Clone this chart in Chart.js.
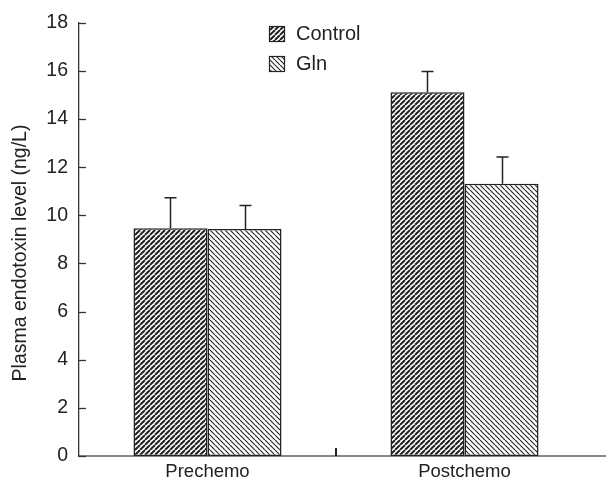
<!DOCTYPE html>
<html>
<head>
<meta charset="utf-8">
<script src="https://cdn.jsdelivr.net/npm/chart.js@4/dist/chart.umd.min.js"></script>
<style>
  html, body { margin: 0; padding: 0; background: #fff; }
  #wrap { width: 606px; height: 483px; }
</style>
</head>
<body>
<div id="wrap"><canvas id="c" width="606" height="483"></canvas></div>
<script>
const categories = ['Prechemo', 'Postchemo'];
const seriesNames = ['Control', 'Gln'];
const controlValues = [9.46, 15.11];
const controlErrors = [1.27, 0.86];
const glnValues = [9.43, 11.31];
const glnErrors = [0.98, 1.11];
const yMin = 0, yMax = 18, yStep = 2;
const yTitle = 'Plasma endotoxin level (ng/L)';

const FONT = "'Liberation Sans', Arial, sans-serif";
const TEXT = '#222';

function makeHatch(dir, size, lw, color) {
  const c = document.createElement('canvas');
  c.width = size; c.height = size;
  const g = c.getContext('2d');
  g.fillStyle = '#fff';
  g.fillRect(0, 0, size, size);
  g.strokeStyle = color;
  g.lineWidth = lw;
  g.beginPath();
  for (let k = -1; k <= 1; k++) {
    if (dir === '/') {
      g.moveTo(k * size, size);
      g.lineTo(k * size + size, 0);
    } else {
      g.moveTo(k * size, 0);
      g.lineTo(k * size + size, size);
    }
  }
  g.stroke();
  return document.getElementById('c').getContext('2d').createPattern(c, 'repeat');
}

const controlFill = makeHatch('/', 5, 2.0, '#222');
const glnFill = makeHatch('\\', 5, 1.2, '#2a2a2a');

const errorsBySet = [controlErrors, glnErrors];

const errorBars = {
  id: 'errorBars',
  afterDatasetsDraw(chart) {
    const ctx = chart.ctx;
    const ys = chart.scales.y;
    ctx.save();
    ctx.strokeStyle = '#222';
    ctx.lineWidth = 1.5;
    chart.data.datasets.forEach((ds, i) => {
      const meta = chart.getDatasetMeta(i);
      meta.data.forEach((el, j) => {
        const top = ys.getPixelForValue(ds.data[j] + errorsBySet[i][j]);
        const x = Math.round(el.x) + 0.5;
        ctx.beginPath();
        ctx.moveTo(x, el.y);
        ctx.lineTo(x, top);
        ctx.moveTo(x - 6, top);
        ctx.lineTo(x + 6, top);
        ctx.stroke();
      });
    });
    ctx.restore();
  }
};

const axisDecor = {
  id: 'axisDecor',
  afterDraw(chart) {
    const ctx = chart.ctx;
    const ys = chart.scales.y, xs = chart.scales.x;
    const area = chart.chartArea;
    ctx.save();
    // x axis extension to the right edge
    ctx.strokeStyle = '#888';
    ctx.lineWidth = 2;
    ctx.beginPath();
    ctx.moveTo(area.right - 1, area.bottom);
    ctx.lineTo(chart.width, area.bottom);
    ctx.stroke();
    // inside y ticks
    ctx.strokeStyle = '#333';
    ctx.lineWidth = 1.3;
    ys.ticks.forEach(t => {
      const y = Math.round(ys.getPixelForValue(t.value)) + 0.5;
      ctx.beginPath();
      ctx.moveTo(area.left, y);
      ctx.lineTo(area.left + 7, y);
      ctx.stroke();
    });
    // middle x tick between categories
    const mid = (xs.getPixelForValue(0) + xs.getPixelForValue(1)) / 2;
    ctx.strokeStyle = '#222';
    ctx.lineWidth = 2;
    ctx.beginPath();
    ctx.moveTo(mid, area.bottom);
    ctx.lineTo(mid, area.bottom - 8);
    ctx.stroke();
    // y axis title
    ctx.save();
    ctx.translate(21, 253);
    ctx.rotate(-Math.PI / 2);
    ctx.font = '19.5px ' + FONT;
    ctx.fillStyle = TEXT;
    ctx.textAlign = 'center';
    ctx.textBaseline = 'middle';
    ctx.fillText(yTitle, 0, 0);
    ctx.restore();
    // legend
    const fills = [controlFill, glnFill];
    ctx.font = '20px ' + FONT;
    ctx.textBaseline = 'middle';
    ctx.textAlign = 'left';
    seriesNames.forEach((name, i) => {
      const y0 = 26 + i * 30;
      ctx.fillStyle = fills[i];
      ctx.fillRect(269, y0, 16, 16);
      ctx.strokeStyle = '#222';
      ctx.lineWidth = 1.2;
      ctx.strokeRect(269.5, y0 + 0.5, 15, 15);
      ctx.fillStyle = TEXT;
      ctx.fillText(name, 296, y0 + 8.5);
    });
    ctx.restore();
  }
};

new Chart(document.getElementById('c'), {
  type: 'bar',
  data: {
    labels: categories,
    datasets: [
      { label: seriesNames[0], data: controlValues, backgroundColor: controlFill,
        borderColor: '#222', borderWidth: 1.5, borderSkipped: false },
      { label: seriesNames[1], data: glnValues, backgroundColor: glnFill,
        borderColor: '#222', borderWidth: 1.5, borderSkipped: false }
    ]
  },
  options: {
    responsive: false,
    animation: false,
    devicePixelRatio: 1,
    layout: { padding: { top: 21, right: 13, bottom: 0, left: 0 } },
    plugins: { legend: { display: false }, tooltip: { enabled: false } },
    datasets: { bar: { categoryPercentage: 0.576, barPercentage: 1.0 } },
    scales: {
      x: {
        offset: true,
        grid: { display: false, drawTicks: false },
        border: { display: true, color: '#888', width: 2 },
        ticks: { color: TEXT, font: { family: FONT, size: 18.5 }, padding: 5 },
        afterFit(s) { s.height = 27; }
      },
      y: {
        min: yMin, max: yMax,
        grid: { display: false, drawTicks: false },
        border: { display: true, color: '#333', width: 1.3 },
        ticks: { stepSize: yStep, color: TEXT, font: { family: FONT, size: 19.5 }, padding: 11 },
        title: { display: false, text: yTitle },
        afterFit(s) { s.width = 79; }
      }
    }
  },
  plugins: [errorBars, axisDecor]
});
</script>
</body>
</html>
